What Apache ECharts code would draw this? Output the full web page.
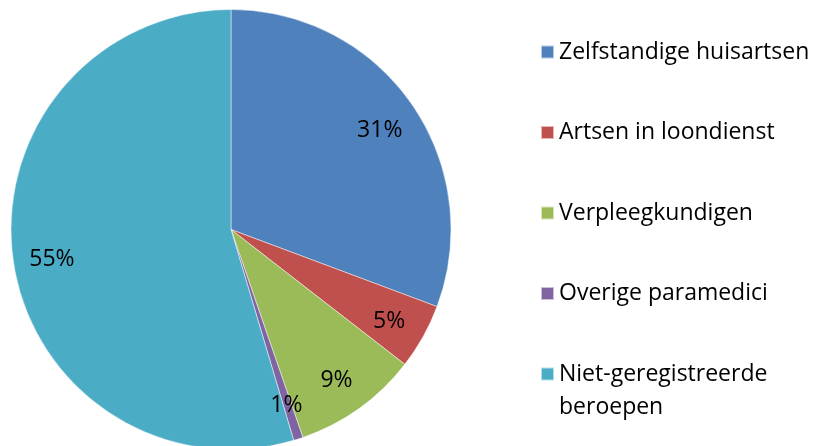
<!DOCTYPE html>
<html>
<head>
<meta charset="utf-8">
<script src="https://cdn.jsdelivr.net/npm/echarts@6/dist/echarts.min.js"></script>
<style>
  html, body { margin: 0; padding: 0; background: #fff; }
  #chart { width: 814px; height: 446px; }
</style>
</head>
<body>
<div id="chart"></div>
<script>
// categories and shares (percent)
const categories = [
  'Zelfstandige huisartsen',
  'Artsen in loondienst',
  'Verpleegkundigen',
  'Overige paramedici',
  'Niet-geregistreerde beroepen'
];
const shares = [30.7, 4.8, 9.2, 0.7, 54.6];
const colors = ['#4F81BD', '#C0504D', '#9BBB59', '#8064A2', '#4BACC6'];

const font = 'Open Sans';
const fontSize = 23;
const pieData = categories.map((name, i) => ({ name: name, value: shares[i] }));

const chart = echarts.init(document.getElementById('chart'), null, { renderer: 'canvas' });
chart.setOption({
  animation: false,
  color: colors,
  legend: [
    {
      // first four entries
      orient: 'vertical',
      left: 540,
      top: 35.5,
      padding: 0,
      itemGap: 47.5,
      itemWidth: 13,
      itemHeight: 13,
      icon: 'rect',
      selectedMode: false,
      data: categories.slice(0, 4),
      textStyle: { fontFamily: font, fontSize: fontSize, color: '#000', lineHeight: 33 }
    },
    {
      // last entry wraps onto two lines, icon stays on the first
      // (leading empty line keeps the first text line level with the icon)
      orient: 'vertical',
      left: 540,
      top: 324.5,
      padding: 0,
      itemWidth: 13,
      itemHeight: 13,
      icon: 'rect',
      selectedMode: false,
      data: categories.slice(4),
      formatter: function (name) {
        return '\n' + name.replace(' ', '\n');
      },
      textStyle: { fontFamily: font, fontSize: fontSize, color: '#000', lineHeight: 33 }
    }
  ],
  series: [
    {
      type: 'pie',
      center: [231, 229.5],
      radius: [0, 220],
      startAngle: 90,
      clockwise: true,
      silent: true,
      label: { show: false },
      labelLine: { show: false },
      itemStyle: { borderColor: 'rgba(255,255,255,0.6)', borderWidth: 0.8 },
      data: pieData
    },
    {
      // transparent ring only used to place the percentage labels further out
      type: 'pie',
      center: [231, 229.5],
      radius: [136, 220],
      startAngle: 90,
      clockwise: true,
      silent: true,
      itemStyle: { color: 'transparent' },
      labelLine: { show: false },
      label: {
        show: true,
        position: 'inside',
        fontFamily: font,
        fontSize: fontSize,
        color: '#000',
        offset: [0, 4],
        formatter: function (p) {
          return Math.round(p.value) + '%';
        }
      },
      data: pieData
    }
  ]
});
</script>
</body>
</html>
